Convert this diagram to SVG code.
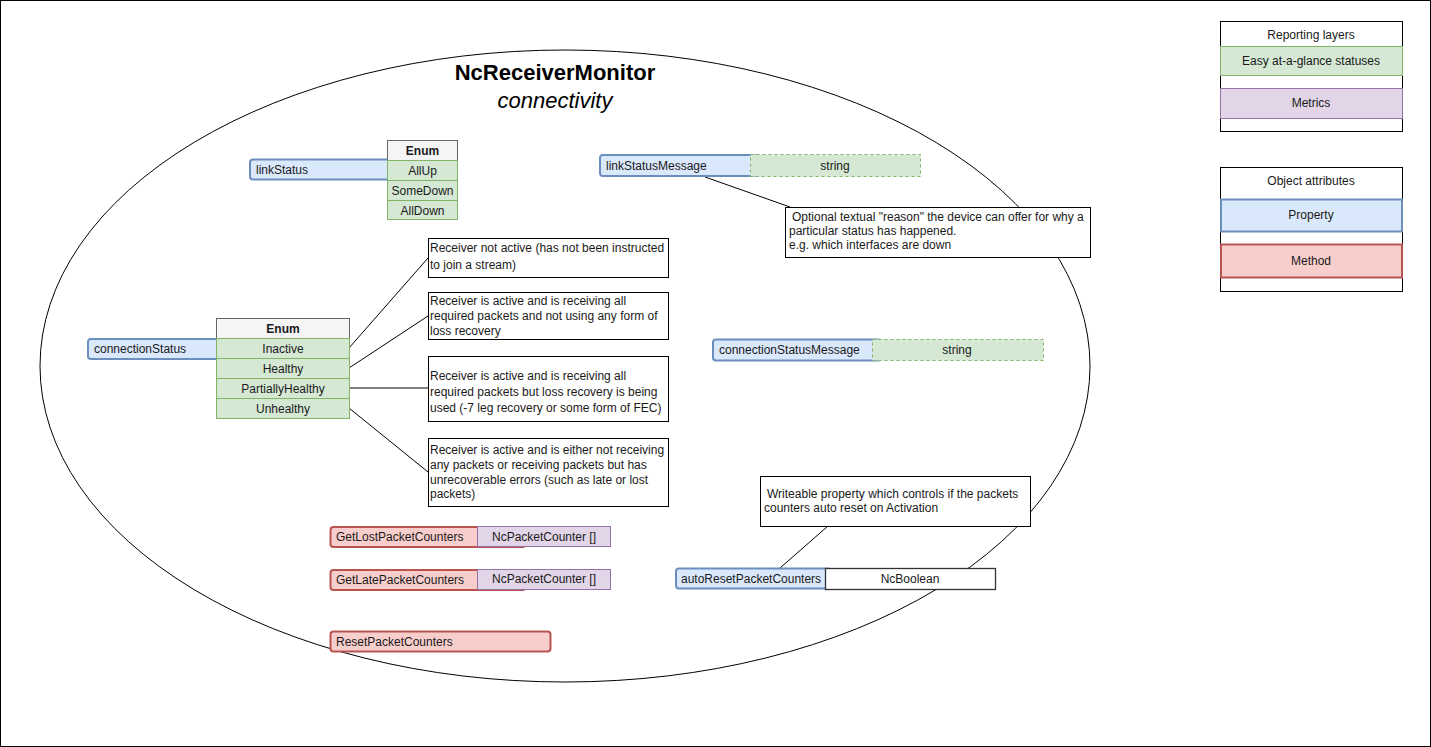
<svg xmlns="http://www.w3.org/2000/svg" width="1431" height="747" viewBox="0 0 1431 747">
<style>
text{font-family:"Liberation Sans",Arial,sans-serif;font-size:12px;fill:#1a1a1a}
.c{text-anchor:middle}
.b{font-weight:bold}
.prop{fill:#dae8fc;stroke:#6c8ebf;stroke-width:2}
.meth{fill:#f8cecc;stroke:#b85450;stroke-width:2}
.grn{fill:#d5e8d4;stroke:#82b366;stroke-width:1}
.grnd{fill:#d5e8d4;stroke:#82b366;stroke-width:1;stroke-dasharray:3 3}
.pur{fill:#e1d5e7;stroke:#9673a6;stroke-width:1}
.hdr{fill:#f5f5f5;stroke:#666;stroke-width:1}
.note{fill:#fff;stroke:#000;stroke-width:1}
.frame{fill:#fff;stroke:#000;stroke-width:1}
.edge{fill:none;stroke:#000;stroke-width:1}
</style>
<rect x="0.5" y="0.5" width="1430" height="746" fill="#fff" stroke="#000"/>
<g id="monitor">
<ellipse cx="565" cy="366" rx="525" ry="316" fill="none" stroke="#000" stroke-width="1"/>
<text x="555" y="80" class="c b" style="font-size:22px;fill:#000">NcReceiverMonitor</text>
<text x="555" y="108" class="c" style="font-size:22px;font-style:italic;fill:#000">connectivity</text>
</g>
<g id="connectors">
<path class="edge" d="M705 177 L790 207"/>
<path class="edge" d="M349 348 L428 258"/>
<path class="edge" d="M349 368 L428 316"/>
<path class="edge" d="M349 388 L428 388"/>
<path class="edge" d="M349 408 L428 472"/>
<path class="edge" d="M780 568 L828 526"/>
</g>
<g id="linkStatus">
<rect class="prop" x="250" y="159.5" width="207" height="20" rx="3"/>
<text x="256" y="174">linkStatus</text>
<rect class="hdr" x="387.5" y="140.5" width="70" height="20"/>
<text x="422.5" y="155" class="c b">Enum</text>
<rect class="grn" x="387.5" y="160.5" width="70" height="20"/>
<text x="422.5" y="175" class="c">AllUp</text>
<rect class="grn" x="387.5" y="180.5" width="70" height="20"/>
<text x="422.5" y="195" class="c">SomeDown</text>
<rect class="grn" x="387.5" y="200.5" width="70" height="19"/>
<text x="422.5" y="215" class="c">AllDown</text>
</g>
<g id="linkStatusMessage">
<rect class="prop" x="600" y="155" width="160" height="21" rx="3"/>
<text x="606" y="170">linkStatusMessage</text>
<rect class="grnd" x="750.5" y="154.5" width="170" height="22"/>
<text x="835" y="170" class="c">string</text>
</g>
<g id="linkStatusMessageNote">
<rect class="note" x="785.5" y="207.5" width="305" height="50"/>
<text x="792" y="221">Optional textual "reason" the device can offer for why a</text>
<text x="789" y="235">particular status has happened.</text>
<text x="789" y="249">e.g. which interfaces are down</text>
</g>
<g id="connectionStatus">
<rect class="prop" x="88" y="339" width="261" height="20" rx="3"/>
<text x="94" y="353">connectionStatus</text>
<rect class="hdr" x="216.5" y="318.5" width="133" height="20"/>
<text x="283" y="333" class="c b">Enum</text>
<rect class="grn" x="216.5" y="338.5" width="133" height="20"/>
<text x="283" y="353" class="c">Inactive</text>
<rect class="grn" x="216.5" y="358.5" width="133" height="20"/>
<text x="283" y="373" class="c">Healthy</text>
<rect class="grn" x="216.5" y="378.5" width="133" height="20"/>
<text x="283" y="393" class="c">PartiallyHealthy</text>
<rect class="grn" x="216.5" y="398.5" width="133" height="20"/>
<text x="283" y="413" class="c">Unhealthy</text>
</g>
<g id="noteInactive">
<rect class="note" x="428.5" y="238.5" width="240" height="39"/>
<text x="430" y="252">Receiver not active (has not been instructed</text>
<text x="430" y="269">to join a stream)</text>
</g>
<g id="noteHealthy">
<rect class="note" x="428.5" y="292.5" width="240" height="47"/>
<text x="430" y="305">Receiver is active and is receiving all</text>
<text x="430" y="320">required packets and not using any form of</text>
<text x="430" y="335">loss recovery</text>
</g>
<g id="notePartiallyHealthy">
<rect class="note" x="428.5" y="356.5" width="240" height="65"/>
<text x="430" y="380">Receiver is active and is receiving all</text>
<text x="430" y="396">required packets but loss recovery is being</text>
<text x="430" y="412">used (-7 leg recovery or some form of FEC)</text>
</g>
<g id="noteUnhealthy">
<rect class="note" x="428.5" y="438.5" width="240" height="68"/>
<text x="430" y="454">Receiver is active and is either not receiving</text>
<text x="430" y="469">any packets or receiving packets but has</text>
<text x="430" y="484">unrecoverable errors (such as late or lost</text>
<text x="430" y="498">packets)</text>
</g>
<g id="connectionStatusMessage">
<rect class="prop" x="713" y="339.5" width="168" height="21" rx="3"/>
<text x="719" y="354">connectionStatusMessage</text>
<rect class="grnd" x="872.5" y="339.5" width="171" height="21"/>
<text x="957" y="354" class="c">string</text>
</g>
<g id="GetLostPacketCounters">
<rect class="meth" x="330.5" y="527" width="195" height="20" rx="3"/>
<text x="336" y="541">GetLostPacketCounters</text>
<rect class="pur" x="477.5" y="526.5" width="133" height="20"/>
<text x="544" y="541" class="c">NcPacketCounter []</text>
</g>
<g id="GetLatePacketCounters">
<rect class="meth" x="330.5" y="570" width="195" height="20" rx="3"/>
<text x="336" y="584">GetLatePacketCounters</text>
<rect class="pur" x="477.5" y="569.5" width="133" height="20"/>
<text x="544" y="583" class="c">NcPacketCounter []</text>
</g>
<g id="ResetPacketCounters">
<rect class="meth" x="330.5" y="631.5" width="220" height="20" rx="3"/>
<text x="336" y="646">ResetPacketCounters</text>
</g>
<g id="autoResetPacketCounters">
<rect class="prop" x="676" y="568.5" width="155" height="20" rx="3"/>
<text x="681" y="583">autoResetPacketCounters</text>
<rect x="825.5" y="568.5" width="170" height="21" fill="#fff" stroke="#333" stroke-width="1.3"/>
<text x="910" y="583" class="c">NcBoolean</text>
</g>
<g id="autoResetNote">
<rect class="note" x="760.5" y="476.5" width="270" height="50"/>
<text x="767" y="498">Writeable property which controls if the packets</text>
<text x="764" y="512">counters auto reset on Activation</text>
</g>
<g id="legendReporting">
<rect class="frame" x="1220.5" y="21.5" width="182" height="110"/>
<text x="1311" y="39" class="c">Reporting layers</text>
<rect class="grn" x="1220.5" y="46.5" width="182" height="29"/>
<text x="1311" y="65" class="c">Easy at-a-glance statuses</text>
<rect class="pur" x="1220.5" y="88.5" width="182" height="30"/>
<text x="1311" y="107" class="c">Metrics</text>
</g>
<g id="legendAttributes">
<rect class="frame" x="1220.5" y="167.5" width="182" height="124"/>
<text x="1311" y="185" class="c">Object attributes</text>
<rect class="prop" x="1221" y="199.5" width="181" height="32"/>
<text x="1311" y="219" class="c">Property</text>
<rect class="meth" x="1221" y="244.5" width="181" height="33"/>
<text x="1311" y="265" class="c">Method</text>
</g>
</svg>
